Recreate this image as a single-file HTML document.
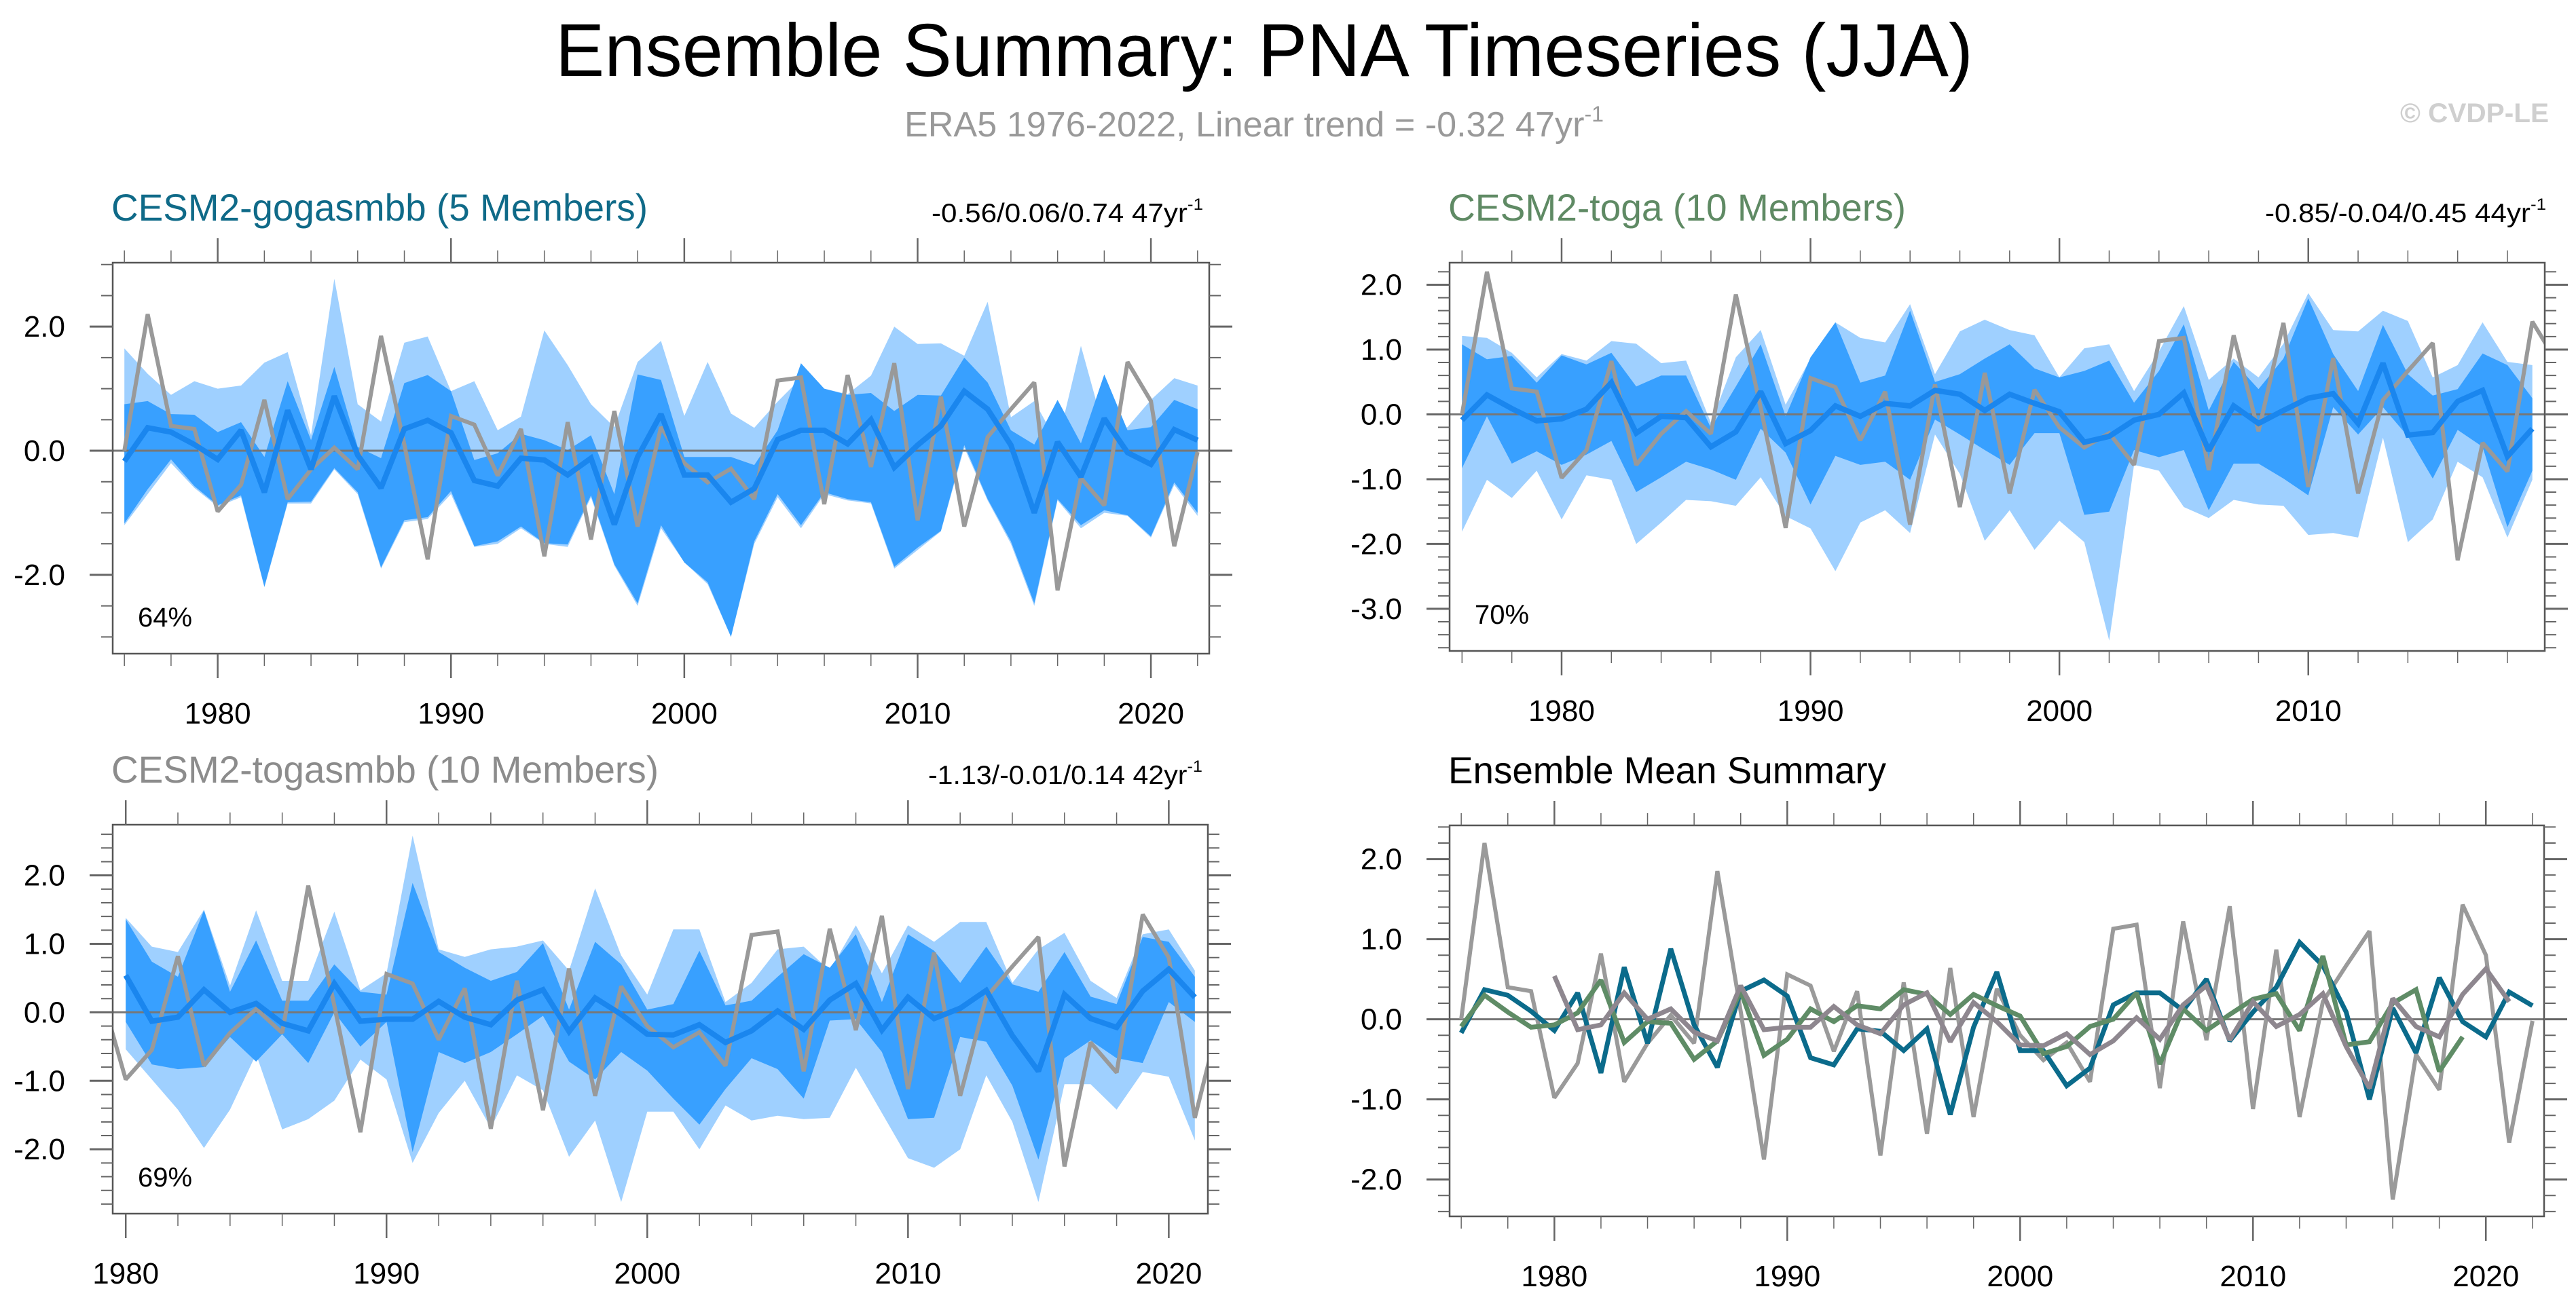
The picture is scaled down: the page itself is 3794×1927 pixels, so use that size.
<!DOCTYPE html>
<html><head><meta charset="utf-8">
<style>
html,body{margin:0;padding:0;background:#fff;}
svg{display:block;font-family:"Liberation Sans",Arial,sans-serif;}
</style></head>
<body>
<svg id="chart" width="3794" height="1927" viewBox="0 0 3794 1927" xmlns="http://www.w3.org/2000/svg">
<rect width="3794" height="1927" fill="#fff"/>
<text x="1862" y="112" text-anchor="middle" font-size="110" textLength="2088" lengthAdjust="spacingAndGlyphs" fill="#000">Ensemble Summary: PNA Timeseries (JJA)</text>
<text x="1332" y="201" font-size="52" fill="#999" textLength="1030" lengthAdjust="spacingAndGlyphs">ERA5 1976-2022, Linear trend = -0.32 47yr<tspan dy="-22" font-size="32">-1</tspan></text>
<text x="3754" y="180" text-anchor="end" font-size="40" font-weight="bold" fill="#cfcfcf" textLength="219" lengthAdjust="spacingAndGlyphs">© CVDP-LE</text>
<g id="panels"></g>
</svg>
<script>
// ---------- data ----------
const era5Years = [1976,2022];
const era5Values = [0.0,2.2,0.4,0.35,-0.98,-0.55,0.82,-0.78,-0.3,0.05,-0.3,1.85,0.1,-1.75,0.56,0.42,-0.4,0.35,-1.7,0.46,-1.43,0.64,-1.22,0.38,-0.2,-0.51,-0.29,-0.78,1.13,1.18,-0.86,1.22,-0.26,1.41,-1.12,0.87,-1.22,0.22,0.67,1.1,-2.25,-0.44,-0.88,1.43,0.8,-1.54,-0.02];

// CESM2-gogasmbb 1976-2022
const gogaYears = [1976,2022];
const gogaMean = [-0.17,0.37,0.3,0.1,-0.14,0.33,-0.67,0.65,-0.3,0.88,-0.07,-0.6,0.35,0.49,0.29,-0.48,-0.57,-0.12,-0.15,-0.39,-0.12,-1.19,-0.1,0.59,-0.39,-0.39,-0.83,-0.61,0.18,0.33,0.33,0.11,0.5,-0.27,0.09,0.4,0.96,0.67,0.09,-1.0,0.14,-0.42,0.52,-0.03,-0.22,0.34,0.17];
const gogaOuterHi = [1.65,1.24,0.9,1.12,1.0,1.05,1.42,1.59,0.25,2.77,0.75,0.47,1.74,1.84,0.96,1.12,0.33,0.55,1.94,1.38,0.75,0.38,1.43,1.77,0.56,1.43,0.6,0.37,0.79,1.17,1.0,0.91,1.21,2.0,1.72,1.73,1.53,2.4,0.54,0.8,0.12,1.69,0.33,0.38,0.82,1.17,1.05];
const gogaInnerHi = [0.75,0.8,0.59,0.58,0.3,0.46,-0.1,1.12,0.17,1.35,0.06,-0.12,1.09,1.22,0.96,-0.15,-0.04,0.27,0.17,0.01,0.25,-0.7,1.23,1.14,-0.1,-0.1,-0.1,-0.23,0.33,1.41,1.0,0.9,0.93,0.64,0.9,0.89,1.5,1.1,0.33,0.1,0.82,0.12,1.23,0.33,0.38,0.82,0.67];
const gogaInnerLo = [-1.17,-0.62,-0.14,-0.57,-0.88,-0.72,-2.19,-0.83,-0.82,-0.28,-0.67,-1.88,-1.12,-1.07,-0.65,-1.54,-1.46,-1.22,-1.49,-1.51,-0.72,-1.83,-2.46,-1.2,-1.8,-2.12,-3.0,-1.46,-0.7,-1.2,-0.67,-0.78,-0.83,-1.87,-1.56,-1.29,0.09,-0.78,-1.46,-2.46,-0.78,-1.2,-0.96,-1.04,-1.38,-0.51,-1.0];
const gogaOuterLo = [-1.2,-0.7,-0.2,-0.6,-0.9,-0.75,-2.2,-0.85,-0.85,-0.3,-0.7,-1.9,-1.15,-1.1,-0.7,-1.55,-1.5,-1.25,-1.5,-1.55,-0.75,-1.85,-2.5,-1.25,-1.8,-2.15,-3.0,-1.5,-0.75,-1.25,-0.7,-0.8,-0.85,-1.9,-1.6,-1.3,0.05,-0.8,-1.5,-2.5,-0.8,-1.25,-1.0,-1.05,-1.4,-0.55,-1.05];

// CESM2-toga 1976-2019
const togaYears = [1976,2019];
const togaMean = [-0.09,0.3,0.09,-0.1,-0.07,0.08,0.49,-0.29,-0.03,-0.05,-0.5,-0.27,0.35,-0.45,-0.25,0.13,-0.03,0.17,0.13,0.37,0.31,0.06,0.31,0.17,0.04,-0.43,-0.34,-0.09,0.0,0.33,-0.56,0.13,-0.14,0.06,0.25,0.32,-0.14,0.79,-0.32,-0.28,0.2,0.37,-0.65,-0.22];
const togaOuterHi = [1.21,1.18,0.95,0.57,0.93,0.83,1.13,1.09,0.79,0.83,-0.13,0.88,1.3,0.15,0.86,1.42,1.18,1.11,1.7,0.62,1.28,1.46,1.3,1.22,0.57,1.02,1.08,0.36,0.97,1.67,0.53,0.86,0.57,1.09,1.87,1.3,1.28,1.6,1.44,0.57,0.76,1.42,0.81,0.76];
const togaInnerHi = [1.08,0.85,0.9,0.49,0.91,0.77,0.95,0.43,0.6,0.6,-0.21,0.43,1.08,-0.03,0.88,1.42,0.49,0.6,1.6,0.5,0.62,0.86,1.08,0.71,0.57,0.67,0.83,0.18,0.67,1.39,0.06,0.81,0.39,0.86,1.79,0.93,0.36,1.38,0.62,0.29,0.39,0.94,0.76,0.25];
const togaInnerLo = [-0.83,-0.03,-0.76,-0.57,-0.78,-0.62,-0.41,-1.2,-0.97,-0.73,-0.85,-1.01,-0.22,-0.59,-1.39,-0.64,-0.78,-0.73,-1.01,-0.08,-0.31,-0.55,-0.78,-0.29,-0.29,-1.55,-1.5,-0.55,-0.66,-0.55,-1.48,-0.76,-0.76,-0.99,-1.25,0.11,-0.31,0.11,-0.34,-0.99,-0.24,-0.5,-1.74,-0.87];
const togaOuterLo = [-1.81,-1.01,-1.29,-0.87,-1.62,-0.94,-1.01,-2.0,-1.67,-1.32,-1.34,-1.41,-0.97,-1.57,-1.76,-2.42,-1.67,-1.48,-1.83,-0.31,-0.92,-1.95,-1.48,-2.09,-1.64,-1.97,-3.49,-0.78,-0.87,-1.43,-1.6,-1.32,-1.39,-1.41,-1.86,-1.83,-1.9,-0.36,-1.97,-1.62,-0.73,-0.97,-1.9,-1.01];

// CESM2-togasmbb 1980-2021
const tsmbbYears = [1980,2021];
const tsmbbMean = [0.54,-0.13,-0.07,0.33,0.0,0.13,-0.16,-0.27,0.42,-0.13,-0.1,-0.1,0.16,-0.07,-0.18,0.18,0.33,-0.28,0.21,-0.03,-0.32,-0.33,-0.18,-0.44,-0.27,0.02,-0.25,0.18,0.42,-0.26,0.22,-0.09,0.06,0.32,-0.34,-0.86,0.26,-0.09,-0.22,0.31,0.63,0.22];
const tsmbbOuterHi = [1.38,0.96,0.88,1.5,0.39,1.49,0.46,0.46,1.47,0.32,0.57,2.58,0.92,0.81,0.92,0.96,1.05,0.61,1.81,0.83,0.26,1.21,1.21,0.15,0.43,0.92,0.96,0.61,1.27,0.57,1.27,1.03,1.32,1.32,0.43,0.92,1.16,0.46,0.21,1.14,1.21,0.61];
const tsmbbInnerHi = [1.36,0.74,0.52,1.49,0.3,1.05,0.17,0.17,0.7,0.3,0.26,1.89,0.88,0.65,0.46,0.59,1.01,0.04,1.03,0.7,0.04,0.12,0.9,0.1,0.17,0.52,0.85,0.65,1.14,0.15,1.14,0.9,0.43,0.96,0.41,0.3,0.88,0.23,0.12,1.1,1.03,0.52];
const tsmbbInnerLo = [-0.14,-0.76,-0.83,-0.8,-0.36,-0.72,-0.32,-0.74,0.0,-0.5,-0.14,-2.04,-0.58,-0.74,-0.58,-0.32,-0.05,-0.72,-0.98,-0.58,-0.85,-1.26,-1.64,-1.12,-0.67,-0.83,-1.26,-0.12,-0.1,-0.58,-1.56,-1.54,-0.36,-0.43,-1.07,-2.15,-0.67,-0.41,-0.67,-0.74,0.15,-0.14];
const tsmbbOuterLo = [-0.54,-0.98,-1.42,-1.98,-1.42,-0.61,-1.71,-1.56,-1.29,-0.69,-0.98,-2.2,-1.47,-1.0,-1.69,-0.92,-1.14,-2.11,-1.58,-2.77,-1.45,-1.45,-2.0,-1.36,-1.58,-1.51,-1.56,-1.54,-0.81,-1.47,-2.13,-2.27,-2.0,-0.92,-1.6,-2.77,-1.05,-1.05,-1.42,-0.87,-0.94,-1.87];

const yTicks1 = ["-2.0","0.0","2.0"];
const yTicks2 = ["-3.0","-2.0","-1.0","0.0","1.0","2.0"];
const yTicks3 = ["-2.0","-1.0","0.0","1.0","2.0"];
const xTickLabels = ["1980","1990","2000","2010","2020"];

// ---------- rendering ----------
const NS = "http://www.w3.org/2000/svg";
const root = document.getElementById('panels');
function mk(tag, attrs, parent) {
  const e = document.createElementNS(NS, tag);
  for (const k in attrs) e.setAttribute(k, attrs[k]);
  (parent || root).appendChild(e);
  return e;
}
function yearsOf(range, n) { const a = []; for (let i = 0; i < n; i++) a.push(range[0] + i); return a; }

function makePanel(cfg) {
  const g = mk('g', {});
  
  
  const sx = y => cfg.x0 + (y - cfg.xmin) / (cfg.xmax - cfg.xmin) * (cfg.x1 - cfg.x0);
  const sy = v => cfg.y0 + (cfg.ymax - v) / (cfg.ymax - cfg.ymin) * (cfg.y1 - cfg.y0);
  const cid = 'clip-' + cfg.name;
  const cp = mk('clipPath', {id: cid}, g);
  mk('rect', {x: cfg.x0, y: cfg.y0, width: cfg.x1 - cfg.x0, height: cfg.y1 - cfg.y0}, cp);
  const plot = mk('g', {'clip-path': 'url(#' + cid + ')'}, g);
  
  
  (cfg.bands || []).forEach(b => {
    const yrs = yearsOf(b.years, b.hi.length);
    const pts = yrs.map((y, i) => sx(y).toFixed(1) + ',' + sy(b.hi[i]).toFixed(1));
    for (let i = yrs.length - 1; i >= 0; i--) pts.push(sx(yrs[i]).toFixed(1) + ',' + sy(b.lo[i]).toFixed(1));
    const p = mk('polygon', {points: pts.join(' '), fill: b.color}, plot);
    
    
  });
  const z = mk('line', {x1: cfg.x0, x2: cfg.x1, y1: sy(0), y2: sy(0), stroke: '#777', 'stroke-width': 3}, plot);
  
  
  cfg.lines.forEach(l => {
    const yrs = yearsOf(l.years, l.values.length);
    const pts = yrs.map((y, i) => sx(y).toFixed(1) + ',' + sy(l.values[i]).toFixed(1)).join(' ');
    const p = mk('polyline', {points: pts, fill: 'none', stroke: l.color, 'stroke-width': l.width, 'stroke-linejoin': 'miter', 'stroke-miterlimit': 2}, plot);
    
    
  });
  const fr = mk('rect', {x: cfg.x0, y: cfg.y0, width: cfg.x1 - cfg.x0, height: cfg.y1 - cfg.y0, fill: 'none', stroke: '#555', 'stroke-width': 2.5}, g);
  
  
  const ax = mk('g', {stroke: '#666'}, g);
  
  
  const nMinor = Math.round((cfg.ymax - cfg.ymin) / cfg.yMinor) + 2;
  const start = Math.ceil(cfg.ymin / cfg.yMinor);
  for (let k = start; k < start + nMinor; k++) {
    const v = k * cfg.yMinor;
    if (v > cfg.ymax + 1e-6) break;
    const y = sy(v);
    const isMajor = Math.abs(v / cfg.yMajor - Math.round(v / cfg.yMajor)) < 1e-6;
    const len = isMajor ? 34 : 17;
    mk('line', {x1: cfg.x0 - len, x2: cfg.x0, y1: y, y2: y, 'stroke-width': isMajor ? 3 : 2}, ax);
    mk('line', {x1: cfg.x1, x2: cfg.x1 + len, y1: y, y2: y, 'stroke-width': isMajor ? 3 : 2}, ax);
  }
  cfg.yLabels.forEach(s => {
    const v = parseFloat(s);
    const t = mk('text', {x: cfg.x0 - 70, y: sy(v) + 15, 'text-anchor': 'end', 'font-size': 44, fill: '#000', stroke: 'none'}, g);
    t.textContent = s;
    
    
  });
  const xa = mk('g', {stroke: '#666'}, g);
  
  
  for (let yr = Math.ceil(cfg.xmin); yr <= cfg.xmax; yr++) {
    if (yr % 2) continue;
    const x = sx(yr);
    const isMajor = yr % 10 === 0;
    const len = isMajor ? 36 : 18;
    mk('line', {x1: x, x2: x, y1: cfg.y1, y2: cfg.y1 + len, 'stroke-width': isMajor ? 2.5 : 1.5}, xa);
    mk('line', {x1: x, x2: x, y1: cfg.y0 - len, y2: cfg.y0, 'stroke-width': isMajor ? 2.5 : 1.5}, xa);
  }
  xTickLabels.forEach(s => {
    const yr = parseInt(s);
    if (yr < cfg.xmin || yr > cfg.xmax) return;
    const t = mk('text', {x: sx(yr), y: cfg.y1 + 103, 'text-anchor': 'middle', 'font-size': 44, fill: '#000'}, g);
    t.textContent = s;
    
    
  });
  const tt = mk('text', {x: cfg.x0 - 2, y: cfg.y0 - 62, 'font-size': 56, fill: cfg.titleColor, textLength: cfg.titleW, lengthAdjust: 'spacingAndGlyphs'}, g);
  tt.textContent = cfg.title;
  
  
  if (cfg.trend) {
    const tr = mk('text', {x: cfg.trendX, y: cfg.y0 - 60, 'font-size': 39, fill: '#000', textLength: cfg.trendW, lengthAdjust: 'spacingAndGlyphs'}, g);
    
    
    tr.appendChild(document.createTextNode(cfg.trend + 'yr'));
    const sp = mk('tspan', {dy: -18, 'font-size': 24}, tr);
    sp.textContent = '-1';
  }
  if (cfg.pct) {
    const pc = mk('text', {x: cfg.x0 + 37, y: cfg.y1 - 40, 'font-size': 40, fill: '#000'}, g);
    pc.textContent = cfg.pct;
    
    
  }
}

const LIGHT = '#9fd0ff', MID = '#38a0ff', MEAN = '#1a86ee', GRAY = '#999999';

makePanel({name: 'panel-gogasmbb', x0: 166, x1: 1781, y0: 387, y1: 963, xmin: 1975.5, xmax: 2022.5, ymin: -3.27, ymax: 3.03,
  yMajor: 2, yMinor: 0.5, yLabels: yTicks1,
  title: 'CESM2-gogasmbb (5 Members)', titleColor: '#0f6a88', titleW: 790, trend: '-0.56/0.06/0.74 47', trendX: 1372, trendW: 400, pct: '64%',
  bands: [{name: 'outer-range-band', years: gogaYears, hi: gogaOuterHi, lo: gogaOuterLo, color: LIGHT},
          {name: 'inner-range-band', years: gogaYears, hi: gogaInnerHi, lo: gogaInnerLo, color: MID}],
  lines: [{name: 'era5-line', years: era5Years, values: era5Values, color: GRAY, width: 6},
          {name: 'ensemble-mean-line', years: gogaYears, values: gogaMean, color: MEAN, width: 8}]});

makePanel({name: 'panel-toga', x0: 2135, x1: 3748, y0: 387, y1: 959, xmin: 1975.5, xmax: 2019.5, ymin: -3.65, ymax: 2.34,
  yMajor: 1, yMinor: 0.2, yLabels: yTicks2,
  title: 'CESM2-toga (10 Members)', titleColor: '#5f8a64', titleW: 674, trend: '-0.85/-0.04/0.45 44', trendX: 3336, trendW: 414, pct: '70%',
  bands: [{name: 'outer-range-band', years: togaYears, hi: togaOuterHi, lo: togaOuterLo, color: LIGHT},
          {name: 'inner-range-band', years: togaYears, hi: togaInnerHi, lo: togaInnerLo, color: MID}],
  lines: [{name: 'era5-line', years: era5Years, values: era5Values, color: GRAY, width: 6},
          {name: 'ensemble-mean-line', years: togaYears, values: togaMean, color: MEAN, width: 8}]});

makePanel({name: 'panel-togasmbb', x0: 166, x1: 1779, y0: 1215, y1: 1788, xmin: 1979.5, xmax: 2021.5, ymin: -2.94, ymax: 2.74,
  yMajor: 1, yMinor: 0.2, yLabels: yTicks3,
  title: 'CESM2-togasmbb (10 Members)', titleColor: '#8c8c8c', titleW: 806, trend: '-1.13/-0.01/0.14 42', trendX: 1367, trendW: 404, pct: '69%',
  bands: [{name: 'outer-range-band', years: tsmbbYears, hi: tsmbbOuterHi, lo: tsmbbOuterLo, color: LIGHT},
          {name: 'inner-range-band', years: tsmbbYears, hi: tsmbbInnerHi, lo: tsmbbInnerLo, color: MID}],
  lines: [{name: 'era5-line', years: era5Years, values: era5Values, color: GRAY, width: 6},
          {name: 'ensemble-mean-line', years: tsmbbYears, values: tsmbbMean, color: MEAN, width: 8}]});

makePanel({name: 'panel-ensemble-mean-summary', x0: 2135, x1: 3747, y0: 1216, y1: 1792, xmin: 1975.5, xmax: 2022.5, ymin: -2.46, ymax: 2.42,
  yMajor: 1, yMinor: 0.2, yLabels: yTicks3,
  title: 'Ensemble Mean Summary', titleColor: '#000', titleW: 645,
  lines: [{name: 'era5-line', years: era5Years, values: era5Values, color: '#9a9a9a', width: 6},
          {name: 'gogasmbb-mean-line', years: gogaYears, values: gogaMean, color: '#0b6b8b', width: 7},
          {name: 'toga-mean-line', years: togaYears, values: togaMean, color: '#5f8c66', width: 7},
          {name: 'togasmbb-mean-line', years: tsmbbYears, values: tsmbbMean, color: '#8e878f', width: 7}]});
</script>
</body></html>
